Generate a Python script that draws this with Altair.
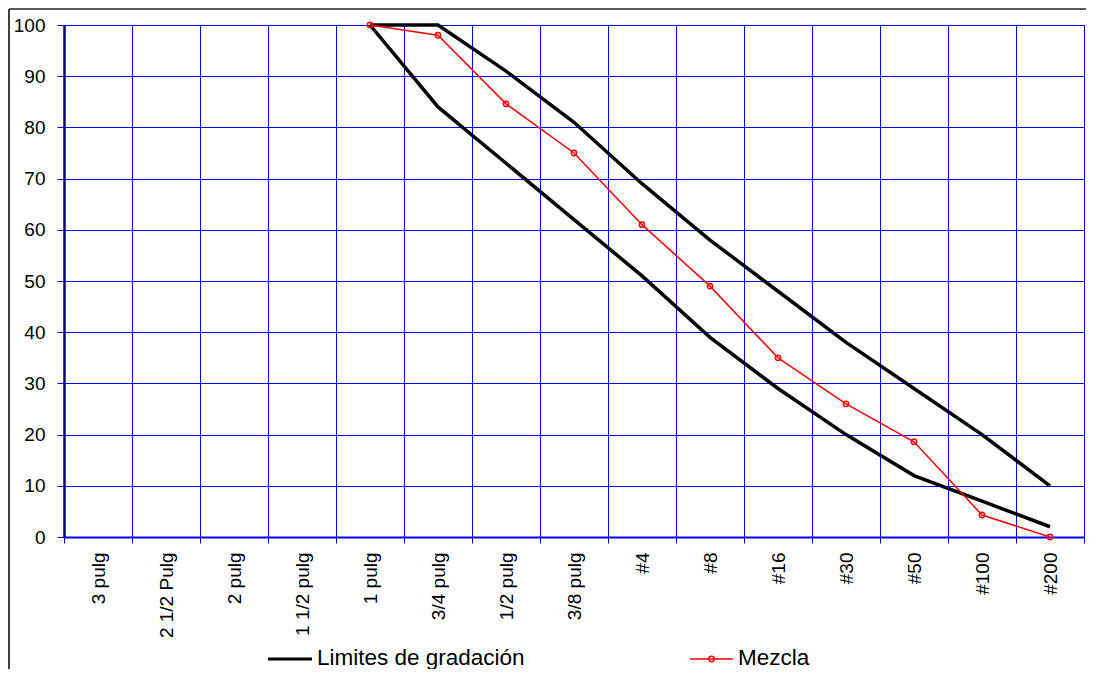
import altair as alt
import pandas as pd

categories = ["3 pulg", "2 1/2 Pulg", "2 pulg", "1 1/2 pulg", "1 pulg", "3/4 pulg",
              "1/2 pulg", "3/8 pulg", "#4", "#8", "#16", "#30", "#50", "#100", "#200"]
upper = [None, None, None, None, 100, 100, 91, 81, 69, 58, 48, 38, 29, 20, 10]
lower = [None, None, None, None, 100, 84, 73, 62, 51, 39, 29, 20, 12, 7, 2]
mezcla = [None, None, None, None, 100, 98, 84.6, 75, 61, 49, 35, 26, 18.6, 4.3, 0]
y_ticks = [0, 10, 20, 30, 40, 50, 60, 70, 80, 90, 100]
legend_labels = ["Limites de gradación", "Mezcla"]

FONT = "Liberation Sans"
BLUE = "#0000FF"
W, H = 1020, 512
TOTAL_H = 661

rows = []
for name, vals in (("upper", upper), ("lower", lower)):
    for c, v in zip(categories, vals):
        if v is not None:
            rows.append({"tamiz": c, "valor": v, "serie": name})
lim_df = pd.DataFrame(rows)
mez_df = pd.DataFrame([{"tamiz": c, "valor": v} for c, v in zip(categories, mezcla) if v is not None])

x_enc = alt.X("tamiz:N", sort=categories,
              scale=alt.Scale(type="band", domain=categories, paddingInner=0, paddingOuter=0),
              axis=alt.Axis(title=None, labelAngle=-90, labelAlign="right", labelBaseline="middle",
                            tickBand="extent", grid=True, gridColor=BLUE, gridWidth=1,
                            ticks=True, tickColor=BLUE, tickSize=6, domainColor=BLUE, domainWidth=2,
                            labelPadding=9, labelFontSize=19, labelFont=FONT, labelColor="black"))
y_enc = alt.Y("valor:Q", scale=alt.Scale(domain=[0, 100], nice=False),
              axis=alt.Axis(title=None, values=y_ticks, grid=True, gridColor=BLUE, gridWidth=1,
                            tickColor=BLUE, tickSize=7, domainColor="#000080", domainWidth=2.5,
                            labelPadding=12, labelFontSize=19, labelFont=FONT, labelColor="black"))

limits = alt.Chart(lim_df).mark_line(color="black", strokeWidth=3.5).encode(
    x=x_enc, y=y_enc, detail="serie:N")
mez_line = alt.Chart(mez_df).mark_line(color="red", strokeWidth=1.5).encode(x=x_enc, y=y_enc)
mez_pts = alt.Chart(mez_df).mark_point(shape="circle", color="red", filled=False, size=28,
                                       strokeWidth=1.5, opacity=1).encode(x=x_enc, y=y_enc)

one = pd.DataFrame({"k": [0]})
frame_left = alt.Chart(one).mark_rule(color="black", strokeWidth=1.5).encode(
    x=alt.value(-55), y=alt.value(-16), y2=alt.value(700))
frame_top = alt.Chart(one).mark_rule(color="#222222", strokeWidth=1.5).encode(
    x=alt.value(-55), x2=alt.value(W + 5), y=alt.value(-16))
frame_right = alt.Chart(one).mark_rule(color="black", strokeWidth=1.5).encode(
    x=alt.value(W + 5), y=alt.value(-16), y2=alt.value(700))

leg_y = 633
leg1_sym = alt.Chart(one).mark_rule(color="black", strokeWidth=3).encode(
    x=alt.value(204), x2=alt.value(248), y=alt.value(leg_y + 1))
leg1_txt = alt.Chart(pd.DataFrame({"t": [legend_labels[0]]})).mark_text(
    align="left", baseline="middle", font=FONT, fontSize=22.5, color="black").encode(
    text="t:N", x=alt.value(253), y=alt.value(leg_y))
leg2_sym = alt.Chart(one).mark_rule(color="red", strokeWidth=1.5).encode(
    x=alt.value(626), x2=alt.value(669), y=alt.value(leg_y + 1))
leg2_pt = alt.Chart(one).mark_point(shape="circle", color="red", filled=False, size=28,
                                    strokeWidth=1.5, opacity=1).encode(
    x=alt.value(647.5), y=alt.value(leg_y + 1))
leg2_txt = alt.Chart(pd.DataFrame({"t": [legend_labels[1]]})).mark_text(
    align="left", baseline="middle", font=FONT, fontSize=22.5, color="black").encode(
    text="t:N", x=alt.value(674), y=alt.value(leg_y))

chart = alt.layer(
    limits, mez_line, mez_pts,
    frame_left, frame_top, frame_right,
    leg1_sym, leg1_txt, leg2_sym, leg2_pt, leg2_txt,
).properties(
    width=W, height=H,
    padding={"left": 56, "top": 17, "right": 1078 - 56 - W, "bottom": TOTAL_H - 17 - H},
    autosize="none",
).configure_view(stroke="black", strokeWidth=2).configure(background="white")

chart.save("out.html", embed_options={"renderer": "svg", "actions": False})
